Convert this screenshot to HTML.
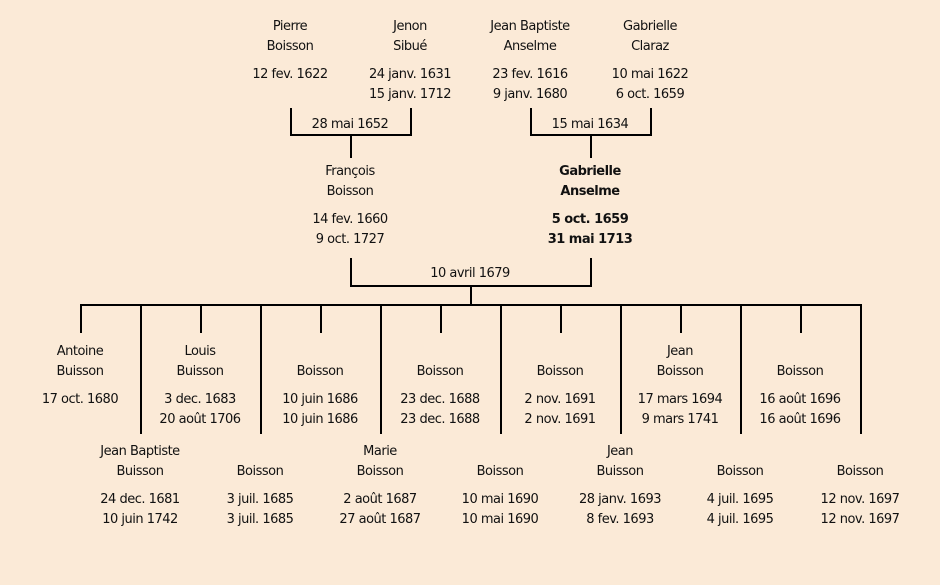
<!DOCTYPE html>
<html><head><meta charset="utf-8"><style>
html,body{margin:0;padding:0}
body{width:940px;height:585px;background:#fbead7;position:relative;overflow:hidden;font-family:"Comic Sans MS","DejaVu Sans",sans-serif;font-size:13px;color:#111;letter-spacing:-0.5px}
.t{position:absolute;width:200px;text-align:center;line-height:16px;white-space:nowrap}
.b{font-weight:bold}
.h,.v{position:absolute;background:#000}
.h{height:2px}.v{width:2px}
</style></head><body>
<div class="v" style="left:290px;top:108px;height:28px"></div>
<div class="v" style="left:410px;top:108px;height:28px"></div>
<div class="h" style="left:290px;top:134px;width:122px"></div>
<div class="v" style="left:350px;top:134px;height:24px"></div>
<div class="v" style="left:530px;top:108px;height:28px"></div>
<div class="v" style="left:650px;top:108px;height:28px"></div>
<div class="h" style="left:530px;top:134px;width:122px"></div>
<div class="v" style="left:590px;top:134px;height:24px"></div>
<div class="v" style="left:350px;top:258px;height:29px"></div>
<div class="v" style="left:590px;top:258px;height:29px"></div>
<div class="h" style="left:350px;top:285px;width:242px"></div>
<div class="v" style="left:470px;top:285px;height:20px"></div>
<div class="h" style="left:80px;top:304px;width:782px"></div>
<div class="v" style="left:80px;top:304px;height:29px"></div>
<div class="v" style="left:200px;top:304px;height:29px"></div>
<div class="v" style="left:320px;top:304px;height:29px"></div>
<div class="v" style="left:440px;top:304px;height:29px"></div>
<div class="v" style="left:560px;top:304px;height:29px"></div>
<div class="v" style="left:680px;top:304px;height:29px"></div>
<div class="v" style="left:800px;top:304px;height:29px"></div>
<div class="v" style="left:140px;top:304px;height:130px"></div>
<div class="v" style="left:260px;top:304px;height:130px"></div>
<div class="v" style="left:380px;top:304px;height:130px"></div>
<div class="v" style="left:500px;top:304px;height:130px"></div>
<div class="v" style="left:620px;top:304px;height:130px"></div>
<div class="v" style="left:740px;top:304px;height:130px"></div>
<div class="v" style="left:860px;top:304px;height:130px"></div>

<div class="t" style="left:190px;top:19px">Pierre</div>
<div class="t" style="left:190px;top:39px">Boisson</div>
<div class="t" style="left:190px;top:67px">12 fev. 1622</div>
<div class="t" style="left:310px;top:19px">Jenon</div>
<div class="t" style="left:310px;top:39px">Sibué</div>
<div class="t" style="left:310px;top:67px">24 janv. 1631</div>
<div class="t" style="left:310px;top:87px">15 janv. 1712</div>
<div class="t" style="left:430px;top:19px">Jean Baptiste</div>
<div class="t" style="left:430px;top:39px">Anselme</div>
<div class="t" style="left:430px;top:67px">23 fev. 1616</div>
<div class="t" style="left:430px;top:87px">9 janv. 1680</div>
<div class="t" style="left:550px;top:19px">Gabrielle</div>
<div class="t" style="left:550px;top:39px">Claraz</div>
<div class="t" style="left:550px;top:67px">10 mai 1622</div>
<div class="t" style="left:550px;top:87px">6 oct. 1659</div>
<div class="t" style="left:250px;top:117px">28 mai 1652</div>
<div class="t" style="left:490px;top:117px">15 mai 1634</div>

<div class="t" style="left:250px;top:164px">François</div>
<div class="t" style="left:250px;top:184px">Boisson</div>
<div class="t" style="left:250px;top:212px">14 fev. 1660</div>
<div class="t" style="left:250px;top:232px">9 oct. 1727</div>
<div class="t b" style="left:490px;top:164px">Gabrielle</div>
<div class="t b" style="left:490px;top:184px">Anselme</div>
<div class="t b" style="left:490px;top:212px">5 oct. 1659</div>
<div class="t b" style="left:490px;top:232px">31 mai 1713</div>
<div class="t" style="left:370px;top:266px">10 avril 1679</div>

<div class="t" style="left:-20px;top:344px">Antoine</div>
<div class="t" style="left:-20px;top:364px">Buisson</div>
<div class="t" style="left:-20px;top:392px">17 oct. 1680</div>
<div class="t" style="left:100px;top:344px">Louis</div>
<div class="t" style="left:100px;top:364px">Buisson</div>
<div class="t" style="left:100px;top:392px">3 dec. 1683</div>
<div class="t" style="left:100px;top:412px">20 août 1706</div>
<div class="t" style="left:220px;top:364px">Boisson</div>
<div class="t" style="left:220px;top:392px">10 juin 1686</div>
<div class="t" style="left:220px;top:412px">10 juin 1686</div>
<div class="t" style="left:340px;top:364px">Boisson</div>
<div class="t" style="left:340px;top:392px">23 dec. 1688</div>
<div class="t" style="left:340px;top:412px">23 dec. 1688</div>
<div class="t" style="left:460px;top:364px">Boisson</div>
<div class="t" style="left:460px;top:392px">2 nov. 1691</div>
<div class="t" style="left:460px;top:412px">2 nov. 1691</div>
<div class="t" style="left:580px;top:344px">Jean</div>
<div class="t" style="left:580px;top:364px">Boisson</div>
<div class="t" style="left:580px;top:392px">17 mars 1694</div>
<div class="t" style="left:580px;top:412px">9 mars 1741</div>
<div class="t" style="left:700px;top:364px">Boisson</div>
<div class="t" style="left:700px;top:392px">16 août 1696</div>
<div class="t" style="left:700px;top:412px">16 août 1696</div>

<div class="t" style="left:40px;top:444px">Jean Baptiste</div>
<div class="t" style="left:40px;top:464px">Buisson</div>
<div class="t" style="left:40px;top:492px">24 dec. 1681</div>
<div class="t" style="left:40px;top:512px">10 juin 1742</div>
<div class="t" style="left:160px;top:464px">Boisson</div>
<div class="t" style="left:160px;top:492px">3 juil. 1685</div>
<div class="t" style="left:160px;top:512px">3 juil. 1685</div>
<div class="t" style="left:280px;top:444px">Marie</div>
<div class="t" style="left:280px;top:464px">Boisson</div>
<div class="t" style="left:280px;top:492px">2 août 1687</div>
<div class="t" style="left:280px;top:512px">27 août 1687</div>
<div class="t" style="left:400px;top:464px">Boisson</div>
<div class="t" style="left:400px;top:492px">10 mai 1690</div>
<div class="t" style="left:400px;top:512px">10 mai 1690</div>
<div class="t" style="left:520px;top:444px">Jean</div>
<div class="t" style="left:520px;top:464px">Buisson</div>
<div class="t" style="left:520px;top:492px">28 janv. 1693</div>
<div class="t" style="left:520px;top:512px">8 fev. 1693</div>
<div class="t" style="left:640px;top:464px">Boisson</div>
<div class="t" style="left:640px;top:492px">4 juil. 1695</div>
<div class="t" style="left:640px;top:512px">4 juil. 1695</div>
<div class="t" style="left:760px;top:464px">Boisson</div>
<div class="t" style="left:760px;top:492px">12 nov. 1697</div>
<div class="t" style="left:760px;top:512px">12 nov. 1697</div>
</body></html>
